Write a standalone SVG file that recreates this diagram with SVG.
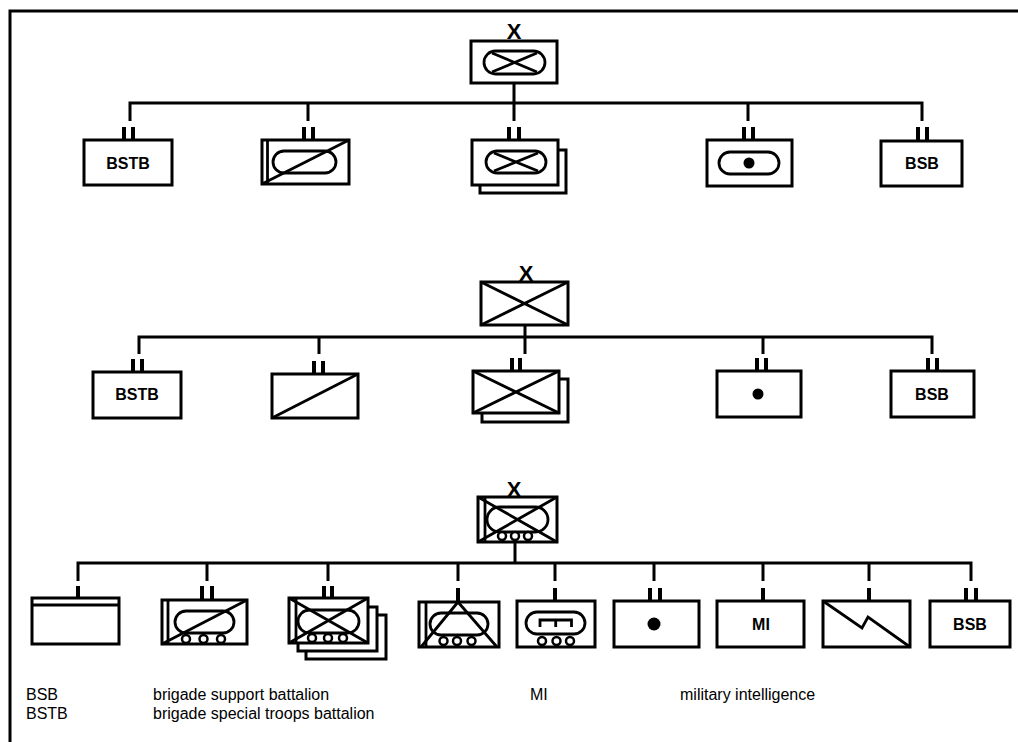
<svg xmlns="http://www.w3.org/2000/svg" width="1018" height="742" viewBox="0 0 1018 742">
<style>
.b{fill:#fff;stroke:#000;stroke-width:3}
.l{fill:none;stroke:#000;stroke-width:2.8}
.c{fill:none;stroke:#000;stroke-width:3}
.m{fill:none;stroke:#000;stroke-width:4}
.w{fill:#fff;stroke:#000;stroke-width:2.5}
.d{fill:#000}
.lab{font-family:"Liberation Sans",Arial,sans-serif;font-weight:bold;font-size:16px;text-anchor:middle}
.ech{font-family:"Liberation Sans",Arial,sans-serif;font-weight:bold;font-size:22px;text-anchor:middle}
.leg{font-family:"Liberation Sans",Arial,sans-serif;font-size:16px}
</style>
<rect width="1018" height="742" fill="#fff"/>
<path class="c" d="M10,742 V11 H1018"/>

<g id="connectors">
<path class="c" d="M514,83 V121 M130,121 V103 H922 V121 M308,103 V121 M748,103 V121"/>
<path class="m" d="M124,127 V139 M133,127 V139 M304,127 V140 M313,127 V140 M509,127 V140 M519,127 V140 M744,127 V140 M753,127 V140 M918,127 V141 M927,127 V141"/>
<path class="c" d="M525,325 V354 M139,354 V337 H932 V354 M319,337 V354 M763,337 V354"/>
<path class="m" d="M133,359 V372 M142,359 V372 M314,361 V374 M323,361 V374 M512,358 V371 M520,358 V371 M757,358 V371 M766,358 V371 M928,358 V371 M937,358 V371"/>
<path class="c" d="M515,542 V563 M78,581 V563 H971 V581 M207,563 V581 M328,563 V581 M458,563 V581 M555,563 V581 M654,563 V581 M763,563 V581 M869,563 V581"/>
<path class="m" d="M78,586 V598 M202,586 V600 M212,586 V600 M324,586 V598 M332,586 V598 M458,588 V602 M555,588 V601 M650,588 V601 M660,588 V601 M763,588 V601 M869,588 V601 M966,588 V601 M976,588 V601"/>
</g>

<g id="top-hq">
<text class="ech" x="514" y="39">X</text>
<rect class="b" x="471" y="41" width="86" height="42"/>
<rect class="l" x="484" y="51" width="61" height="23" rx="11.5"/>
<path class="l" d="M492,53 L537,72 M492,72 L537,53"/>
</g>
<g id="top-bstb">
<rect class="b" x="84" y="140" width="88" height="45"/>
<text class="lab" x="128" y="169">BSTB</text>
</g>
<g id="top-cav">
<rect class="b" x="262" y="140" width="87" height="44"/>
<path class="l" d="M267.5,140 V184"/>
<rect class="l" x="273" y="151" width="63" height="22" rx="11"/>
<path class="l" d="M262,184 L349,140"/>
</g>
<g id="top-armor">
<rect class="b" x="480" y="150" width="86" height="43"/>
<rect class="b" x="472" y="140" width="86" height="45"/>
<rect class="l" x="486" y="151" width="60" height="22" rx="11"/>
<path class="l" d="M494,153 L538,171 M494,171 L538,153"/>
</g>
<g id="top-inf">
<rect class="b" x="707" y="140" width="85" height="46"/>
<rect class="l" x="719" y="152" width="60" height="22" rx="11"/>
<circle class="d" cx="749" cy="163" r="5.5"/>
</g>
<g id="top-bsb">
<rect class="b" x="881" y="141" width="81" height="45"/>
<text class="lab" x="922" y="169">BSB</text>
</g>

<g id="mid-hq">
<text class="ech" x="526" y="281">X</text>
<rect class="b" x="481" y="282" width="87" height="43"/>
<path class="l" d="M481,282 L568,325 M481,325 L568,282"/>
</g>
<g id="mid-bstb">
<rect class="b" x="93" y="372" width="88" height="46"/>
<text class="lab" x="137" y="400">BSTB</text>
</g>
<g id="mid-cav">
<rect class="b" x="272" y="374" width="86" height="44"/>
<path class="l" d="M272,418 L358,374"/>
</g>
<g id="mid-inf2">
<rect class="b" x="482" y="379" width="86" height="43"/>
<rect class="b" x="473" y="371" width="86" height="42"/>
<path class="l" d="M473,371 L559,413 M473,413 L559,371"/>
</g>
<g id="mid-inf">
<rect class="b" x="717" y="371" width="84" height="46"/>
<circle class="d" cx="758" cy="394" r="5.5"/>
</g>
<g id="mid-bsb">
<rect class="b" x="891" y="371" width="83" height="46"/>
<text class="lab" x="932" y="400">BSB</text>
</g>

<g id="bot-hq">
<text class="ech" x="514" y="497">X</text>
<rect class="b" x="478" y="497" width="79" height="45"/>
<path class="l" d="M485,497 V542"/>
<rect class="l" x="487" y="507" width="61" height="25" rx="12.5"/>
<path class="l" d="M478,497 L557,542 M478,542 L557,497"/>
<circle class="w" cx="502" cy="536" r="4"/>
<circle class="w" cx="515" cy="536" r="4"/>
<circle class="w" cx="528" cy="536" r="4"/>
</g>
<g id="bot-hhc">
<rect class="b" x="32" y="598" width="87" height="46"/>
<path class="l" d="M32,605 H119"/>
</g>
<g id="bot-cav">
<rect class="b" x="162" y="600" width="85" height="44"/>
<path class="l" d="M168,600 V644"/>
<rect class="l" x="175" y="611" width="59" height="22" rx="11"/>
<path class="l" d="M162,644 L247,600"/>
<circle class="w" cx="186" cy="639" r="4"/>
<circle class="w" cx="203.5" cy="639" r="4"/>
<circle class="w" cx="221" cy="639" r="4"/>
</g>
<g id="bot-armor">
<rect class="b" x="306" y="615" width="80" height="44"/>
<rect class="b" x="298" y="607" width="79" height="44"/>
<rect class="b" x="289" y="598" width="79" height="45"/>
<path class="l" d="M296,598 V643"/>
<rect class="l" x="298" y="610" width="61" height="23" rx="11.5"/>
<path class="l" d="M289,598 L368,643 M289,643 L368,598"/>
<circle class="w" cx="312" cy="638" r="4"/>
<circle class="w" cx="328" cy="638" r="4"/>
<circle class="w" cx="343" cy="638" r="4"/>
</g>
<g id="bot-at">
<rect class="b" x="419" y="602" width="80" height="45"/>
<path class="l" d="M426,602 V647"/>
<rect class="l" x="430" y="613" width="58" height="22" rx="11"/>
<path class="l" d="M421,647 L458,602 L497,647"/>
<circle class="w" cx="443.5" cy="641" r="4"/>
<circle class="w" cx="457" cy="641" r="4"/>
<circle class="w" cx="471.5" cy="641" r="4"/>
</g>
<g id="bot-eng">
<rect class="b" x="517" y="601" width="78" height="46"/>
<rect class="l" x="526" y="612" width="59" height="22" rx="11"/>
<path class="l" d="M540,627 V620 H571.5 V627 M555.7,620 V627"/>
<circle class="w" cx="542" cy="641" r="4"/>
<circle class="w" cx="556.5" cy="641" r="4"/>
<circle class="w" cx="570" cy="641" r="4"/>
</g>
<g id="bot-fa">
<rect class="b" x="614" y="601" width="85" height="46"/>
<circle class="d" cx="654" cy="624" r="6.5"/>
</g>
<g id="bot-mi">
<rect class="b" x="717" y="601" width="87" height="46"/>
<text class="lab" x="761" y="630">MI</text>
</g>
<g id="bot-sig">
<rect class="b" x="823" y="601" width="87" height="46"/>
<path class="l" d="M823,601 L862,628 L868,617 L910,647"/>
</g>
<g id="bot-bsb">
<rect class="b" x="930" y="601" width="80" height="46"/>
<text class="lab" x="970" y="630">BSB</text>
</g>

<g id="legend">
<text class="leg" x="26" y="700">BSB</text>
<text class="leg" x="153" y="700">brigade support battalion</text>
<text class="leg" x="530" y="700">MI</text>
<text class="leg" x="680" y="700">military intelligence</text>
<text class="leg" x="26" y="719">BSTB</text>
<text class="leg" x="153" y="719">brigade special troops battalion</text>
</g>
</svg>
